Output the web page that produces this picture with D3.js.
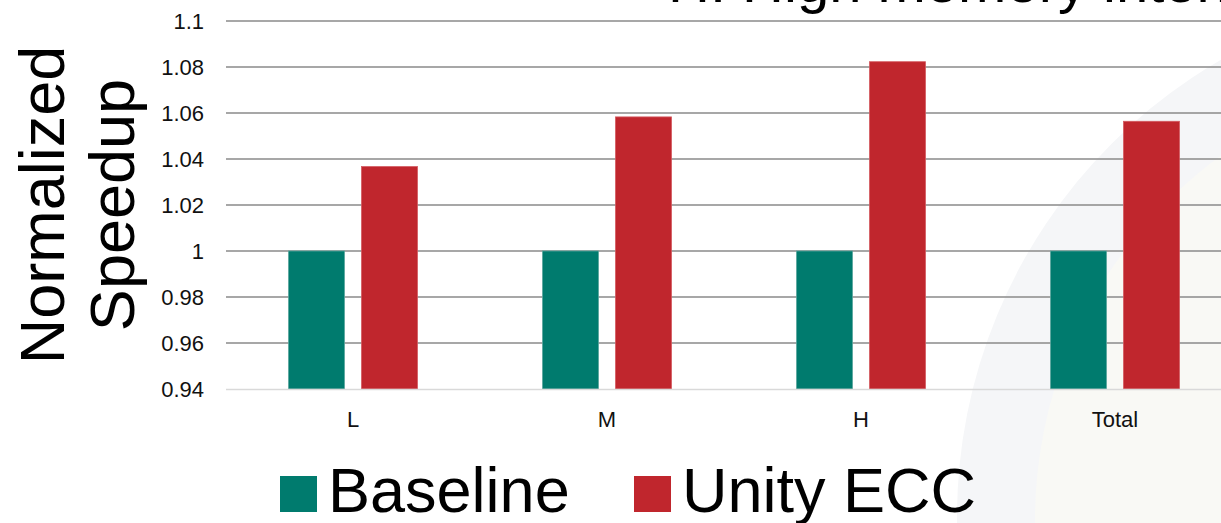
<!DOCTYPE html>
<html>
<head>
<meta charset="utf-8">
<script src="https://cdn.jsdelivr.net/npm/d3@7/dist/d3.min.js"></script>
<style>
  html, body { margin: 0; padding: 0; background: #ffffff; overflow: hidden; }
  svg { display: block; font-family: "Liberation Sans", Arial, sans-serif; }
</style>
</head>
<body>
<svg id="chart" width="1221" height="523"></svg>
<script>
// Workload groups and the two configurations compared
const categories = ["L", "M", "H", "Total"];
const seriesNames = ["Baseline", "Unity ECC"];
const baselineValues = [1.0, 1.0, 1.0, 1.0];
const unityEccValues = [1.0367, 1.0583, 1.0823, 1.0564];
const yTicks = [0.94, 0.96, 0.98, 1, 1.02, 1.04, 1.06, 1.08, 1.1];
const titleText = "H: High memory intensive";
const yLabelLines = ["Normalized", "Speedup"];

const colors = { "Baseline": "#007B6E", "Unity ECC": "#C0262D" };
const borders = { "Baseline": "#5aa69d", "Unity ECC": "#d45a60" };

const svg = d3.select("#chart");
const W = 1221, H = 523;

// Soft decorative disc in the lower right corner
const deco = svg.append("g");
deco.append("circle").attr("cx", 1485).attr("cy", 517).attr("r", 528).attr("fill", "#f5f6f8");
deco.append("circle").attr("cx", 1485).attr("cy", 520).attr("r", 450).attr("fill", "#f9f9f5");

// Scales
const plotLeft = 226, plotRight = 1242;
const y = d3.scaleLinear().domain([0.94, 1.1]).range([389, 21]);
const x0 = d3.scaleBand().domain(categories).range([plotLeft, plotRight])
  .paddingInner(125 / 254).paddingOuter(125 / 254 / 2);
const x1 = d3.scaleBand().domain(seriesNames).range([0, x0.bandwidth()]).paddingInner(17 / 73);

// Horizontal gridlines
svg.append("g").selectAll("line").data(yTicks.filter(d => d > 0.94)).join("line")
  .attr("x1", plotLeft).attr("x2", W)
  .attr("y1", d => y(d)).attr("y2", d => y(d))
  .attr("stroke", "#8a8a8a").attr("stroke-width", 1.6);

// Y axis tick labels
const yAxis = d3.axisLeft(y).tickValues(yTicks).tickSize(0).tickPadding(0)
  .tickFormat(d => String(+d.toFixed(2)));
const gy = svg.append("g").attr("transform", "translate(204,0)").call(yAxis);
gy.select(".domain").remove();
gy.selectAll("text").attr("font-size", 22).attr("fill", "#111").attr("font-family", "Liberation Sans, Arial, sans-serif");

// Bars
const rows = categories.map((c, i) => ({ cat: c, values: [
  { key: "Baseline", value: baselineValues[i] },
  { key: "Unity ECC", value: unityEccValues[i] }
]}));

const groups = svg.append("g").selectAll("g").data(rows).join("g")
  .attr("transform", d => `translate(${x0(d.cat)},0)`);
groups.selectAll("rect").data(d => d.values).join("rect")
  .attr("x", d => x1(d.key))
  .attr("width", x1.bandwidth())
  .attr("y", d => y(d.value))
  .attr("height", d => y(0.94) - y(d.value))
  .attr("fill", d => colors[d.key])
  .attr("stroke", d => borders[d.key])
  .attr("stroke-width", 0.8);

// Category axis line and labels
svg.append("line").attr("x1", plotLeft).attr("x2", W)
  .attr("y1", y(0.94) + 0.5).attr("y2", y(0.94) + 0.5)
  .attr("stroke", "#d9d9d9").attr("stroke-width", 1.5);
const xAxis = d3.axisBottom(x0).tickSize(0).tickPadding(0);
const gx = svg.append("g").attr("transform", `translate(0,${y(0.94)})`).call(xAxis);
gx.select(".domain").remove();
gx.selectAll("text").attr("font-size", 22).attr("fill", "#111")
  .attr("dy", null).attr("y", 38).attr("font-family", "Liberation Sans, Arial, sans-serif");

// Y axis title (two rotated lines)
const yt = svg.append("text").attr("transform", "translate(64,205) rotate(-90)")
  .attr("text-anchor", "middle").attr("font-size", 63).attr("fill", "#000");
yt.append("tspan").attr("x", 0).attr("y", 0).text(yLabelLines[0]);
yt.append("tspan").attr("x", 0).attr("y", 70).text(yLabelLines[1]);

// Title
svg.append("text").attr("x", 668).attr("y", 2).attr("font-size", 58).attr("fill", "#000").text(titleText);

// Legend
const legend = svg.append("g").attr("transform", "translate(0,512)");
const legendX = [280, 634];
seriesNames.forEach((s, i) => {
  const g = legend.append("g").attr("transform", `translate(${legendX[i]},0)`);
  g.append("rect").attr("x", 0).attr("y", -36).attr("width", 37).attr("height", 36).attr("fill", colors[s]);
  g.append("text").attr("x", 48).attr("y", 0).attr("font-size", 63).attr("fill", "#000").text(s);
});
</script>
</body>
</html>
